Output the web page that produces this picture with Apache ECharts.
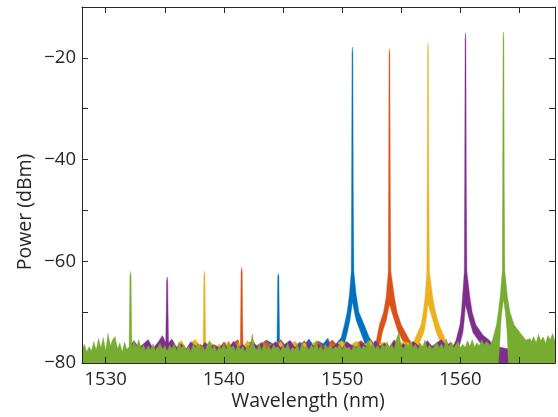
<!DOCTYPE html>
<html><head><meta charset="utf-8">
<script src="https://cdn.jsdelivr.net/npm/echarts@6/dist/echarts.min.js"></script>
<style>html,body{margin:0;padding:0;background:#fff}#c{width:558px;height:417px}</style>
</head><body><div id="c"></div>
<script>
// ---- axis ticks / labels ----
const xTickValues = [1530, 1535, 1540, 1545, 1550, 1555, 1560, 1565];
const xLabelValues = [1530, 1540, 1550, 1560];
const yLabelValues = [-80, -60, -40, -20];

// ---- noise floor (upper envelope, dBm) ----
// green: from 1528 nm, step 0.2 nm
const greenNoiseStart = 1528, greenNoiseStep = 0.2;
const greenNoise = [
-77.5,-76.3,-77.8,-76.8,-77.6,-75.8,-77.4,-75.2,-77.0,-75.0,
-77.6,-74.2,-76.6,-75.4,-74.8,-77.2,-76.0,-77.8,-75.9,-77.3,
-76.8,-77.5,-75.6,-76.9,-75.4,-77.2,-76.4,-77.6,-76.6,-77.4,
-76.2,-77.5,-76.9,-76.1,-77.3,-76.6,-77.7,-76.5,-77.2,-76.3,
-77.6,-75.8,-77.1,-76.4,-77.5,-76.7,-77.8,-76.2,-77.0,-76.0,
-77.4,-76.6,-77.6,-76.3,-75.6,-77.3,-76.5,-77.7,-76.8,-77.2,
-76.1,-77.5,-75.8,-77.0,-76.6,-77.6,-76.2,-77.3,-76.7,-77.8,
-76.4,-77.1,-74.3,-76.9,-77.4,-76.3,-77.6,-76.0,-77.2,-76.7,
-77.5,-76.4,-77.0,-76.8,-77.7,-76.5,-77.3,-76.1,-77.6,-76.9,
-77.4,-76.2,-77.8,-75.9,-77.1,-76.6,-77.5,-76.4,-77.0,-75.6,
-77.3,-76.7,-77.6,-76.3,-77.2,-76.0,-77.4,-76.8,-77.0,-76.2,
-77.5,-76.5,-77.1,-76.9,-77.6,-76.4,-77.2,-76.0,-77.3,-76.6,
-77.0,-75.4,-76.8,-76.1,-77.2,-76.5,-77.4,-76.2,-76.9,-75.8,
-77.1,-76.4,-77.3,-75.2,-74.0,-76.7,-77.2,-76.0,-76.8,-75.6,
-77.0,-76.3,-77.4,-76.1,-76.9,-75.5,-77.1,-76.4,-77.3,-76.6,
-75.9,-77.0,-76.2,-77.2,-75.3,-76.8,-76.0,-77.1,-76.5,-75.7,
-77.0,-76.3,-76.9,-75.6,-76.7,-75.4,-76.8,-76.0,-76.6,-75.5,
-76.4,-75.8,-76.2,-75.6,-76.0,-75.8,-75.0,-74.0,-60.0,-70.0,
-72.0,-73.0,-73.5,-74.0,-74.5,-75.0,-75.2,-75.5,-75.3,-74.2,
-75.8,-74.8,-76.0,-74.4,-75.6,-74.9,-76.1,-74.6,-75.4,-74.2,
-75.7
];
// other colours: from 1528 nm, step 0.4 nm
const otherNoiseStart = 1528, otherNoiseStep = 0.4;
const purpleNoise = [
-79.0,-78.8,-79.2,-78.9,-79.1,-78.7,-79.0,-78.9,-79.2,-78.8,
-76.8,-75.6,-77.0,-76.2,-75.4,-77.1,-76.0,-74.6,-74.8,-75.3,
-76.9,-76.2,-77.3,-75.8,-76.6,-77.2,-75.9,-76.8,-76.4,-77.0,
-76.1,-77.2,-75.7,-76.9,-76.3,-77.4,-75.6,-76.7,-76.0,-77.1,
-76.4,-75.8,-77.0,-76.2,-75.6,-76.9,-76.1,-77.2,-75.9,-76.6,
-76.3,-77.0,-75.7,-76.8,-76.0,-77.1,-75.8,-76.5,-76.9,-75.9,
-76.6,-77.2,-75.6,-76.7,-76.1,-77.0,-75.5,-76.8,-76.2,-77.1,
-75.7,-76.5,-76.9,-75.6,-76.7,-76.0,-75.4,-76.6,-75.9,-75.2,
-70.0,-70.0,-72.0,-74.0,-75.0,-75.5,-76.0,-76.5,-76.8,-77.0,
-77.2,-77.4,-77.0,-77.5,-77.2,-77.6,-77.3,-77.5,-77.1,-77.6,
-77.4
];
const yellowNoise = [
-79.2,-79.0,-79.3,-78.9,-79.1,-79.2,-78.8,-79.0,-79.3,-79.1,
-79.0,-78.8,-78.6,-78.9,-78.5,-78.7,-78.4,-78.2,-78.0,-77.6,
-76.8,-75.6,-77.1,-76.0,-75.4,-76.9,-76.2,-75.8,-77.0,-76.3,
-76.7,-75.7,-77.2,-76.1,-76.8,-75.6,-77.0,-76.4,-75.9,-77.1,
-76.2,-76.9,-75.8,-77.2,-76.4,-75.7,-76.8,-76.0,-77.1,-75.9,
-76.6,-77.0,-75.8,-76.7,-76.1,-75.6,-76.9,-76.3,-75.7,-76.8,
-76.2,-75.6,-77.0,-76.1,-75.9,-76.7,-75.4,-76.2,-75.8,-76.0,
-74.5,-74.0,-73.0,-72.0,-70.0,-72.0,-73.5,-75.0,-76.0,-76.5,
-77.0,-77.5,-78.0,-78.3,-78.6,-78.8,-79.0,-79.1,-79.0,-79.2,
-79.1,-79.3,-79.0,-79.2,-79.4,-79.1,-79.3,-79.0,-79.2,-79.3,
-79.1
];
const orangeNoise = [
-79.3,-79.1,-79.4,-79.0,-79.2,-79.3,-79.1,-79.0,-79.4,-79.2,
-79.1,-79.3,-79.0,-79.2,-78.9,-79.1,-78.8,-79.0,-78.7,-78.6,
-78.4,-78.0,-77.6,-77.2,-76.8,-76.3,-77.0,-75.9,-76.6,-77.2,
-75.8,-76.7,-76.0,-75.4,-77.0,-76.3,-75.7,-76.9,-76.1,-75.6,
-76.8,-76.2,-75.5,-77.0,-76.4,-75.8,-76.7,-75.6,-76.9,-76.1,
-75.7,-76.8,-76.0,-75.5,-76.6,-76.2,-75.8,-76.9,-76.1,-75.6,
-76.4,-75.8,-75.0,-74.0,-72.0,-72.0,-74.0,-75.0,-76.0,-76.5,
-76.3,-75.7,-76.8,-76.2,-77.0,-76.5,-77.3,-76.9,-77.6,-77.8,
-78.0,-78.3,-78.5,-78.7,-78.9,-79.0,-79.1,-79.2,-79.0,-79.3,
-79.2,-79.4,-79.1,-79.3,-79.2,-79.4,-79.1,-79.3,-79.2,-79.4,
-79.3
];
const blueNoise = [
-79.4,-79.2,-79.5,-79.1,-79.3,-79.4,-79.2,-79.1,-79.5,-79.3,
-79.2,-79.4,-79.1,-79.3,-79.0,-79.2,-79.1,-78.9,-79.0,-78.8,
-78.9,-78.6,-78.7,-78.4,-78.5,-78.1,-78.3,-77.8,-77.9,-77.5,
-77.2,-76.6,-77.4,-76.3,-77.0,-76.1,-75.8,-76.9,-76.2,-75.5,
-76.0,-76.8,-75.4,-76.5,-75.6,-76.9,-75.9,-76.3,-75.3,-76.6,
-75.7,-76.2,-75.1,-76.4,-75.6,-75.8,-74.0,-72.0,-74.0,-75.5,
-76.0,-76.6,-75.8,-76.9,-76.4,-77.1,-76.6,-77.3,-76.8,-77.5,
-77.2,-77.8,-77.5,-78.0,-78.2,-78.4,-78.6,-78.8,-78.7,-79.0,
-79.1,-79.0,-79.2,-79.3,-79.1,-79.4,-79.2,-79.3,-79.1,-79.4,
-79.2,-79.3,-79.4,-79.1,-79.3,-79.2,-79.4,-79.3,-79.1,-79.4,
-79.2
];

// ---- weak side lines [wavelength nm, dBm] ----
const greenSide  = [[1531.98,-77],[1532.02,-70],[1532.05,-63],[1532.10,-62.0],[1532.15,-63],[1532.18,-70],[1532.22,-77]];
const purpleSide = [[1535.08,-76],[1535.12,-70],[1535.15,-64],[1535.20,-63.1],[1535.25,-64],[1535.28,-70],[1535.32,-76]];
const yellowSide = [[1538.23,-77],[1538.27,-70],[1538.30,-63],[1538.35,-61.9],[1538.40,-63],[1538.43,-70],[1538.47,-77]];
const orangeSide = [[1541.38,-77],[1541.42,-70],[1541.45,-62],[1541.50,-61.2],[1541.55,-62],[1541.58,-70],[1541.62,-77]];
const blueSide   = [[1544.48,-77],[1544.52,-70],[1544.55,-63],[1544.60,-62.4],[1544.65,-63],[1544.68,-70],[1544.72,-77]];

// ---- main lasing lines: upper envelope [nm, dBm] ----
const blueMain = [[1549.07,-77],[1549.57,-76],[1549.92,-75],[1550.19,-72.5],[1550.42,-70],[1550.62,-66.5],[1550.77,-62],[1550.80,-45],[1550.82,-30],[1550.835,-19],[1550.87,-17.9],[1550.905,-19],[1550.92,-30],[1550.94,-45],[1550.99,-62],[1551.18,-66.5],[1551.42,-70],[1551.87,-72.5],[1552.30,-75],[1552.77,-76.4]];
const orangeMain = [[1552.40,-77],[1552.90,-75.5],[1553.15,-72.5],[1553.50,-70],[1553.72,-67],[1553.90,-62],[1553.93,-45],[1553.95,-30],[1553.965,-19.4],[1554.00,-18.25],[1554.035,-19.4],[1554.05,-30],[1554.07,-45],[1554.12,-62],[1554.42,-67],[1554.65,-70],[1555.00,-72.5],[1555.70,-75.5],[1556.00,-76.5]];
const yellowMain = [[1555.90,-77],[1556.11,-75.5],[1556.67,-72.5],[1556.85,-70],[1557.01,-67],[1557.16,-62],[1557.19,-45],[1557.21,-30],[1557.225,-18.5],[1557.26,-17.07],[1557.295,-18.5],[1557.31,-30],[1557.33,-45],[1557.38,-62],[1557.66,-67],[1557.90,-70],[1558.21,-72.5],[1558.76,-75.5],[1559.10,-76.6]];
const purpleMain = [[1559.35,-77],[1559.63,-75.5],[1559.96,-72.5],[1560.08,-70],[1560.18,-67],[1560.33,-62],[1560.36,-45],[1560.38,-30],[1560.395,-16.5],[1560.43,-15.1],[1560.465,-16.5],[1560.48,-30],[1560.50,-45],[1560.55,-62],[1560.80,-67],[1561.00,-70],[1561.31,-72.5],[1561.90,-74.5],[1562.43,-75.5],[1562.80,-76.5]];
const greenMain = [[1562.50,-76.5],[1562.71,-75.5],[1563.05,-72.5],[1563.20,-70],[1563.36,-67],[1563.54,-62],[1563.57,-45],[1563.59,-30],[1563.605,-16.3],[1563.64,-14.9],[1563.675,-16.3],[1563.69,-30],[1563.71,-45],[1563.76,-62],[1563.98,-67],[1564.20,-70],[1564.54,-72.5],[1565.10,-74.2],[1565.54,-75.5],[1565.90,-75.2]];

// ---- main lasing lines: lower envelope [nm, dBm] ----
const blueLower   = [[1549.67,-80],[1549.82,-77.5],[1550.17,-76.5],[1550.44,-74],[1550.67,-71.5],[1550.87,-68],[1551.17,-71.5],[1551.57,-74],[1551.97,-76.5],[1552.37,-80]];
const orangeLower = [[1552.90,-80],[1553.15,-77],[1553.40,-74],[1553.75,-71.5],[1554.00,-68.5],[1554.40,-71.5],[1554.75,-74],[1555.45,-77],[1555.80,-80]];
const yellowLower = [[1556.11,-80],[1556.36,-77],[1556.92,-74],[1557.10,-71.5],[1557.26,-68.5],[1557.65,-71.5],[1557.96,-74],[1558.51,-77],[1558.86,-80]];
const purpleLower = [[1559.63,-80],[1559.88,-77],[1560.21,-74],[1560.33,-71.5],[1560.43,-68.5],[1560.75,-71.5],[1561.06,-74],[1561.65,-76],[1562.18,-77],[1562.43,-80]];
const greenLower  = [[1563.20,-80],[1563.32,-76.5],[1563.45,-71],[1563.64,-67.5],[1563.80,-70],[1563.95,-74],[1564.02,-78],[1564.06,-80]];

const colors = {blue:'#0072BD', orange:'#D95319', yellow:'#EDB120', purple:'#7E2F8E', green:'#77AC30'};
const xMin = 1528, xMax = 1568, yMin = -80, yMax = -10;

function buildPolygon(start, step, noise, peaks, lower) {
  const spans = peaks.map(p => [p[0][0], p[p.length - 1][0]]);
  const up = [];
  noise.forEach((v, i) => {
    const x = +(start + i * step).toFixed(3);
    if (!spans.some(s => x >= s[0] && x <= s[1])) up.push([x, v]);
  });
  peaks.forEach(p => p.forEach(pt => up.push(pt)));
  up.sort((a, b) => a[0] - b[0]);
  const lo = [[xMin, yMin]].concat(lower, [[xMax, yMin]]).sort((a, b) => a[0] - b[0]);
  return up.concat(lo.reverse());
}

const layers = [
  {name:'blue',   poly: buildPolygon(otherNoiseStart, otherNoiseStep, blueNoise,   [blueSide, blueMain],     blueLower)},
  {name:'orange', poly: buildPolygon(otherNoiseStart, otherNoiseStep, orangeNoise, [orangeSide, orangeMain], orangeLower)},
  {name:'yellow', poly: buildPolygon(otherNoiseStart, otherNoiseStep, yellowNoise, [yellowSide, yellowMain], yellowLower)},
  {name:'purple', poly: buildPolygon(otherNoiseStart, otherNoiseStep, purpleNoise, [purpleSide, purpleMain], purpleLower)},
  {name:'green',  poly: buildPolygon(greenNoiseStart, greenNoiseStep, greenNoise,  [greenSide, greenMain],   greenLower)}
];

const FONT = 'Open Sans';
const axisCol = '#262626';
const chart = echarts.init(document.getElementById('c'));

function xAx(pos, labels) {
  return {
    type:'value', position:pos, min:xMin, max:xMax, z:10,
    axisLine:{show:true, onZero:false, lineStyle:{color:axisCol, width:1}},
    axisTick:{show:true, inside:true, length:6, customValues:xTickValues, lineStyle:{color:axisCol, width:1}},
    axisLabel:{show:labels, customValues:xLabelValues, margin:7, color:axisCol, fontFamily:FONT, fontSize:18.5,
      formatter: v => String(v)},
    splitLine:{show:false}
  };
}
function yAx(pos, labels) {
  return {
    type:'value', position:pos, min:yMin, max:yMax, interval:10, z:10,
    axisLine:{show:true, onZero:false, lineStyle:{color:axisCol, width:1}},
    axisTick:{show:true, inside:true, length:6, lineStyle:{color:axisCol, width:1}},
    axisLabel:{show:labels, customValues:yLabelValues, margin:6, color:axisCol, fontFamily:FONT, fontSize:18.5,
      formatter: v => (v < 0 ? '\u2212' : '') + Math.abs(v)},
    splitLine:{show:false}
  };
}

chart.setOption({
  animation:false,
  backgroundColor:'#ffffff',
  grid:{left:82, right:3, top:7, bottom:54, containLabel:false},
  xAxis:[xAx('bottom', true), xAx('top', false)],
  yAxis:[yAx('left', true), yAx('right', false)],
  series: layers.map(l => ({
    type:'custom', name:l.name, coordinateSystem:'cartesian2d', xAxisIndex:0, yAxisIndex:0,
    silent:true, clip:true,
    data:[[xMin, yMin]],
    encode:{x:0, y:1},
    renderItem:(params, api) => ({
      type:'polygon',
      shape:{points: l.poly.map(p => api.coord(p))},
      style:{fill: colors[l.name], stroke: colors[l.name], lineWidth: 0.4}
    })
  })),
  graphic:[
    {type:'text', x:308, y:401, style:{text:'Wavelength (nm)', fontFamily:FONT, fontSize:19.5, fill:axisCol, textAlign:'center', textVerticalAlign:'middle'}},
    {type:'text', x:25, y:212, rotation:Math.PI/2, style:{text:'Power (dBm)', fontFamily:FONT, fontSize:19.5, fill:axisCol, textAlign:'center', textVerticalAlign:'middle'}}
  ]
});
</script></body></html>
